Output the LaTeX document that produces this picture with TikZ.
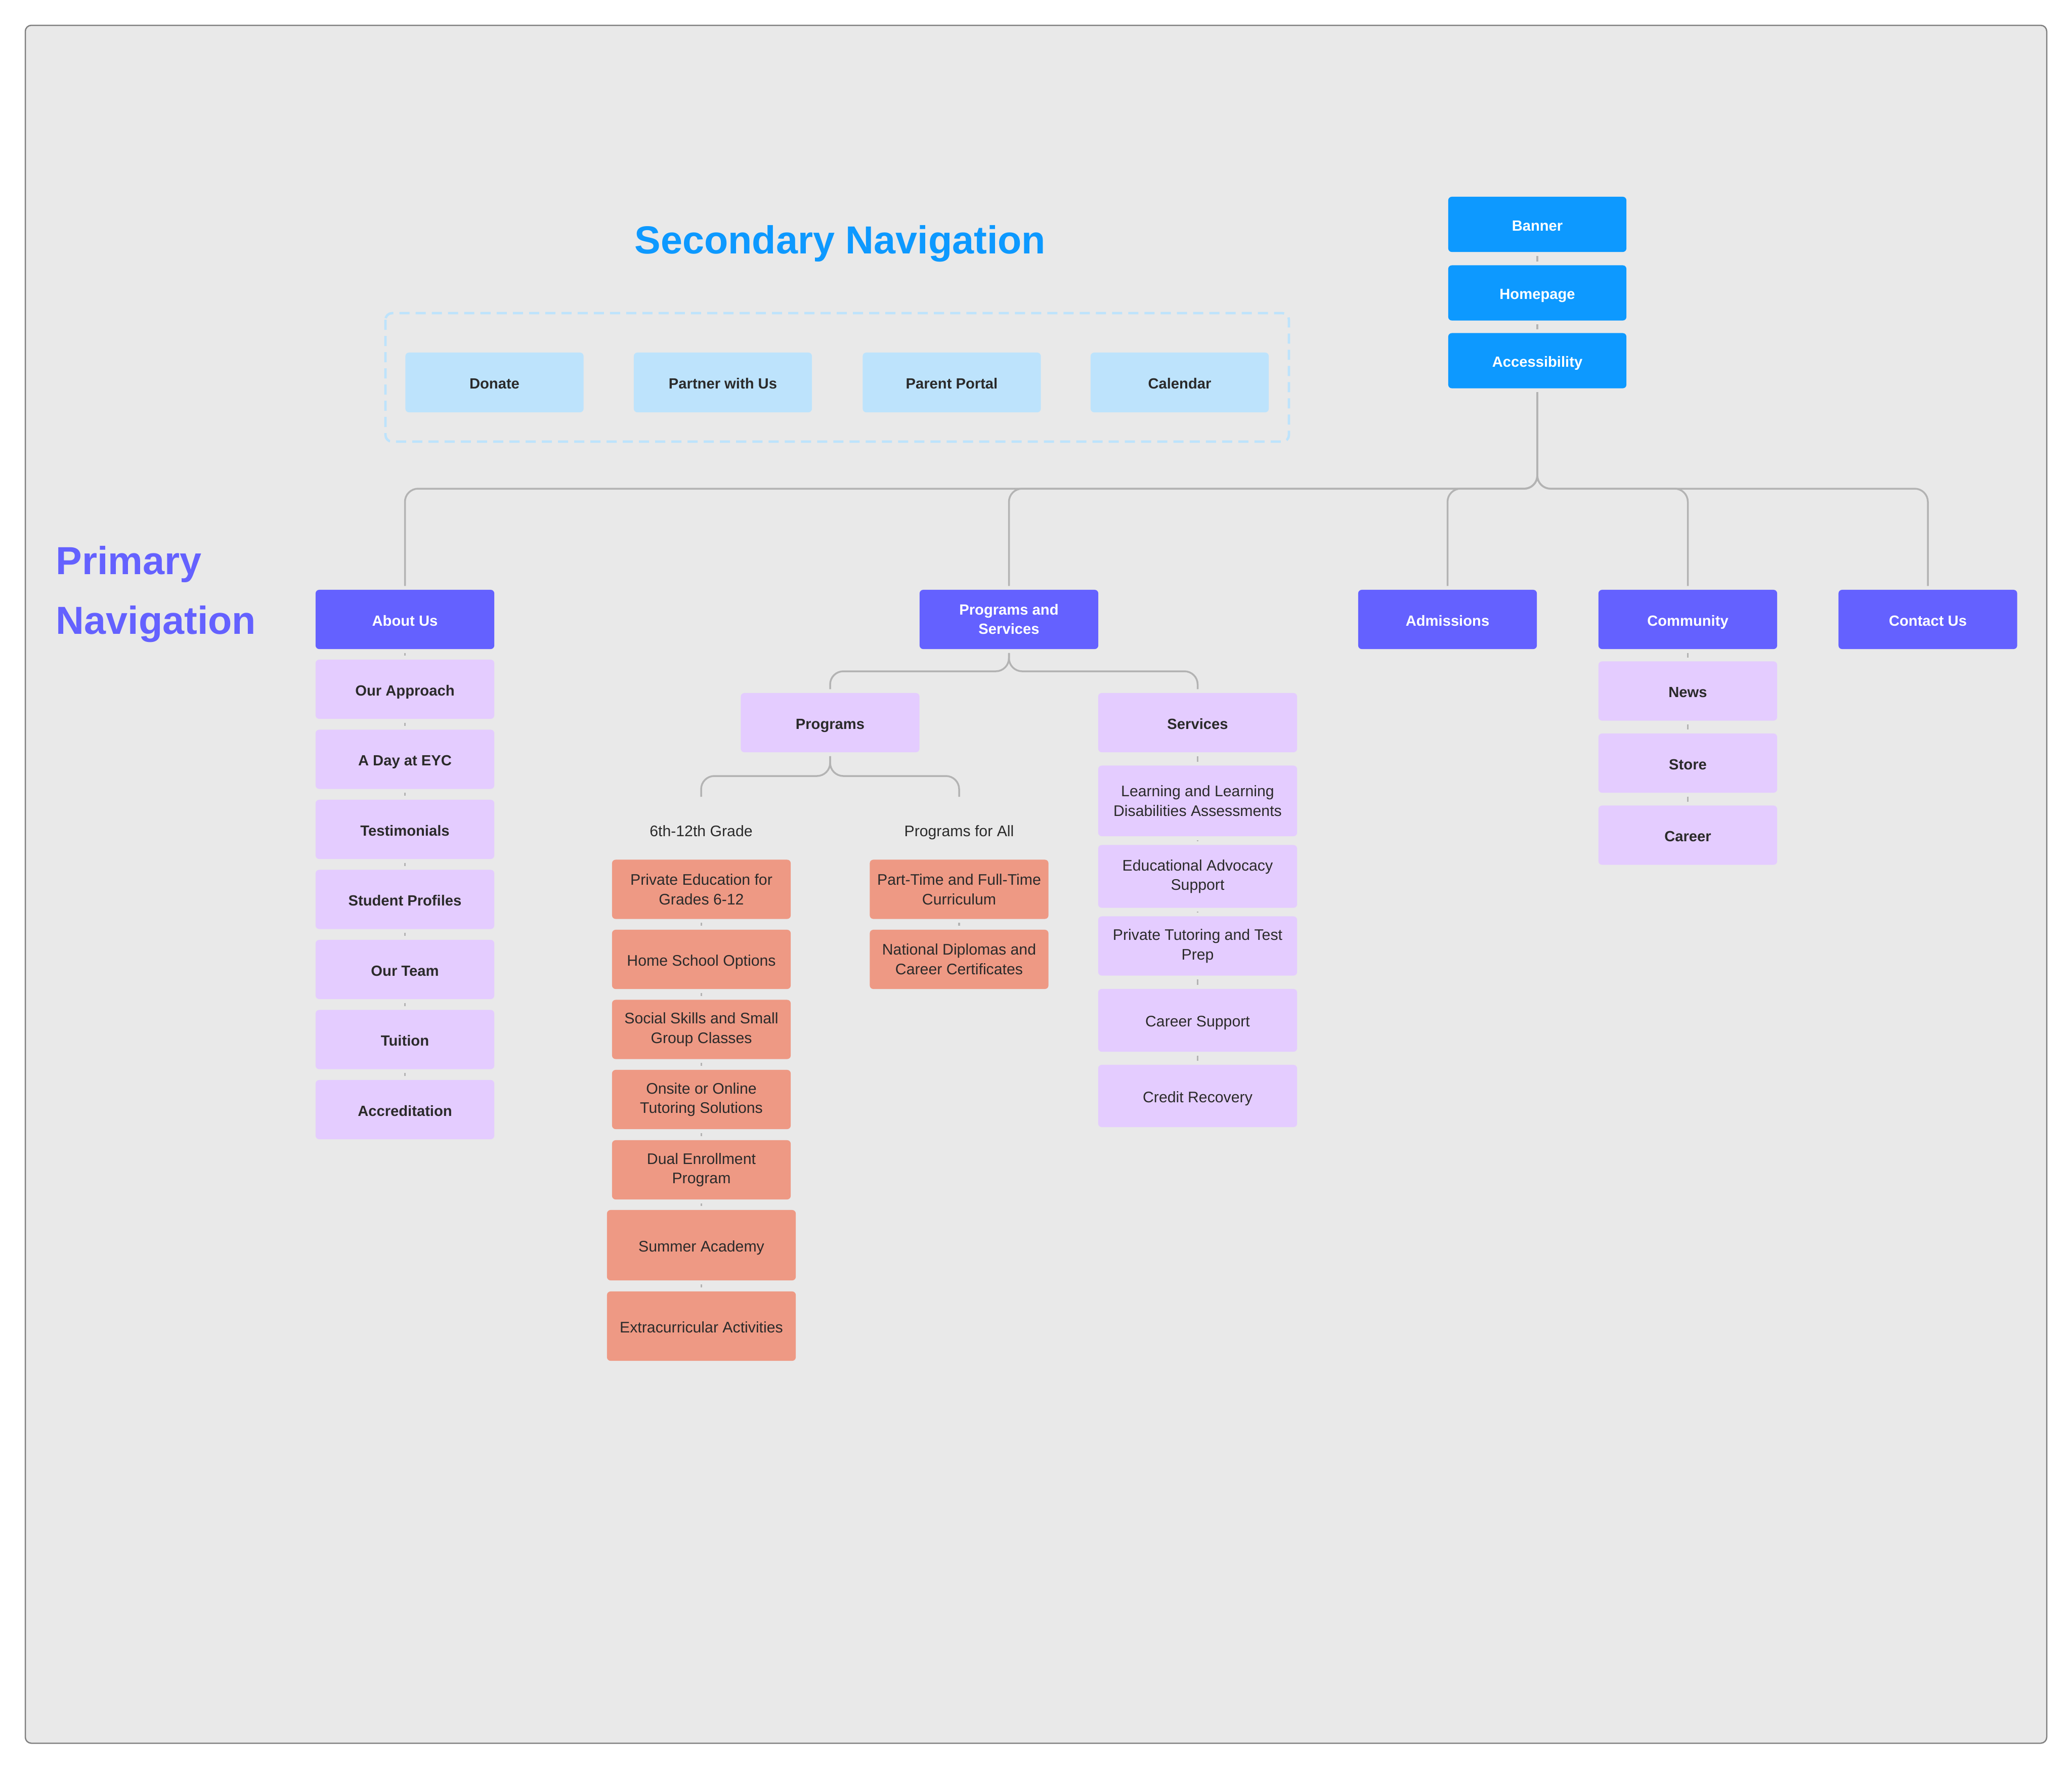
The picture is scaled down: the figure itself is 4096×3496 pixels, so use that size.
\documentclass[tikz,border=0pt]{standalone}
\usepackage{fontspec}
\setmainfont{Liberation Sans}
\definecolor{bg}{HTML}{E9E9E9}
\definecolor{framec}{HTML}{808080}
\definecolor{topblue}{HTML}{0D99FF}
\definecolor{prim}{HTML}{6461FF}
\definecolor{lav}{HTML}{E4CCFF}
\definecolor{salmon}{HTML}{EE9984}
\definecolor{secblue}{HTML}{BDE3FC}
\definecolor{conn}{HTML}{B3B3B3}
\definecolor{ink}{HTML}{2A2A2A}
\tikzset{
  bx/.style={rectangle, rounded corners=0.07cm, inner sep=0pt, align=center,
    minimum width=3.53cm, minimum height=1.17cm, text=ink,
    font=\fontsize{8.6}{11}\selectfont},
  bbx/.style={bx, font=\bfseries\fontsize{8.3}{10.8}\selectfont},
  topbox/.style={bbx, fill=topblue, text=white, minimum width=3.52cm, minimum height=1.09cm},
  primbox/.style={bbx, fill=prim, text=white},
  lavb/.style={bbx, fill=lav},
  lavr/.style={bx, fill=lav, minimum width=3.93cm},
  salm/.style={bx, fill=salmon},
  secbox/.style={bbx, fill=secblue, minimum width=3.52cm, minimum height=1.18cm},
  link/.style={draw=conn, line width=0.035cm, shorten <=0.07cm, shorten >=0.07cm},
  tree/.style={link, rounded corners=0.26cm},
  heading/.style={inner sep=0pt, font=\bfseries\fontsize{22}{26}\selectfont},
  plain/.style={inner sep=0pt, text=ink, font=\fontsize{8.6}{11}\selectfont},
  sl/.style={text height=0.72em, text depth=0pt},
}
\begin{document}
\begin{tikzpicture}[x=0.01cm,y=-0.01cm]
\path[use as bounding box] (0,0) rectangle (4096,3496);
\fill[white] (0,0) rectangle (4096,3496);
\draw[draw=framec, line width=0.025cm, fill=bg, rounded corners=0.12cm] (50,50) rectangle (4046,3446);

% headings
\node[heading, anchor=base, text=topblue] (sectitle) at (1661,501) {Secondary Navigation};
\node[heading, anchor=base west, text=prim] (pt1) at (110,1135) {Primary};
\node[heading, anchor=base west, text=prim] (pt2) at (110,1253) {Navigation};

% secondary navigation
\draw[draw=secblue, line width=0.047cm, dash pattern=on 0.2cm off 0.12cm, rounded corners=0.13cm] (762,619) rectangle (2548,873);
\node[secbox, sl] (donate) at (977.5,756) {Donate};
\node[secbox, sl] (partner) at (1429,756) {Partner with Us};
\node[secbox, sl] (portal) at (1881.5,756) {Parent Portal};
\node[secbox, sl] (cal) at (2332,756) {Calendar};

% top stack
\node[topbox, sl] (banner) at (3039,443.5) {Banner};
\node[topbox, sl] (home) at (3039,579) {Homepage};
\node[topbox, sl] (acc) at (3039,713) {Accessibility};
\draw[link] (banner.south) -- (home.north);
\draw[link] (home.south) -- (acc.north);

% primary navigation
\node[primbox, sl] (about) at (800.5,1224.5) {About Us};
\node[primbox] (ps) at (1994.5,1224.5) {Programs and\\Services};
\node[primbox, sl] (adm) at (2861.5,1224.5) {Admissions};
\node[primbox, sl] (comm) at (3336.5,1224.5) {Community};
\node[primbox, sl] (contact) at (3811,1224.5) {Contact Us};

\coordinate (bus1) at (0,966);
\foreach \c in {about,ps,adm,comm,contact}{
  \draw[tree] (acc.south) -- (acc.south |- bus1) -- (\c.north |- bus1) -- (\c.north);
}

% About Us column
\node[lavb, sl] (appr) at (800.5,1362.5) {Our Approach};
\node[lavb, sl] (day) at (800.5,1501) {A Day at EYC};
\node[lavb, sl] (test) at (800.5,1639.5) {Testimonials};
\node[lavb, sl] (prof) at (800.5,1778) {Student Profiles};
\node[lavb, sl] (team) at (800.5,1916.5) {Our Team};
\node[lavb, sl] (tuit) at (800.5,2055) {Tuition};
\node[lavb, sl] (accr) at (800.5,2193.5) {Accreditation};
\draw[link] (about.south) -- (appr.north);
\draw[link] (appr.south) -- (day.north);
\draw[link] (day.south) -- (test.north);
\draw[link] (test.south) -- (prof.north);
\draw[link] (prof.south) -- (team.north);
\draw[link] (team.south) -- (tuit.north);
\draw[link] (tuit.south) -- (accr.north);

% Community column
\node[lavb, sl] (news) at (3336.5,1366) {News};
\node[lavb, sl] (store) at (3336.5,1508.5) {Store};
\node[lavb, sl] (career) at (3336.5,1651) {Career};
\draw[link] (comm.south) -- (news.north);
\draw[link] (news.south) -- (store.north);
\draw[link] (store.south) -- (career.north);

% Programs and Services
\node[lavb, sl] (progs) at (1641,1428.5) {Programs};
\node[lavb, sl, minimum width=3.93cm] (serv) at (2367.5,1428.5) {Services};
\coordinate (bus2) at (0,1327);
\draw[tree] (ps.south) -- (ps.south |- bus2) -- (progs.north |- bus2) -- (progs.north);
\draw[tree] (ps.south) -- (ps.south |- bus2) -- (serv.north |- bus2) -- (serv.north);

% Services column
\node[lavr, minimum height=1.395cm] (learn) at (2367.5,1583.25) {Learning and Learning\\Disabilities Assessments};
\node[lavr, minimum height=1.24cm] (advo) at (2367.5,1732.5) {Educational Advocacy\\Support};
\node[lavr] (tutor) at (2367.5,1870) {Private Tutoring and Test\\Prep};
\node[lavr, sl, minimum height=1.24cm] (csup) at (2367.5,2017) {Career Support};
\node[lavr, sl, minimum height=1.23cm] (credit) at (2367.5,2166.5) {Credit Recovery};
\draw[link] (serv.south) -- (learn.north);
\draw[link] (learn.south) -- (advo.north);
\draw[link] (advo.south) -- (tutor.north);
\draw[link] (tutor.south) -- (csup.north);
\draw[link] (csup.south) -- (credit.north);

% Programs branches
\node[plain, sl] (g6) at (1386,1641) {6th-12th Grade};
\node[plain, sl] (pall) at (1896,1641) {Programs for All};
\coordinate (g6end) at (1386,1575);
\coordinate (pallend) at (1896,1575);
\coordinate (bus3) at (0,1534);
\draw[tree, shorten >=0pt] (progs.south) -- (progs.south |- bus3) -- (g6end |- bus3) -- (g6end);
\draw[tree, shorten >=0pt] (progs.south) -- (progs.south |- bus3) -- (pallend |- bus3) -- (pallend);

% 6th-12th column
\node[salm] (pe) at (1386.5,1758) {Private Education for\\Grades 6-12};
\node[salm, sl] (hs) at (1386.5,1896.5) {Home School Options};
\node[salm] (ss) at (1386.5,2035) {Social Skills and Small\\Group Classes};
\node[salm] (ot) at (1386.5,2173.5) {Onsite or Online\\Tutoring Solutions};
\node[salm] (de) at (1386.5,2312.5) {Dual Enrollment\\Program};
\node[salm, sl, minimum width=3.73cm, minimum height=1.39cm] (sa) at (1386.5,2461.5) {Summer Academy};
\node[salm, sl, minimum width=3.73cm, minimum height=1.37cm] (ex) at (1386.5,2621.5) {Extracurricular Activities};
\draw[link] (pe.south) -- (hs.north);
\draw[link] (hs.south) -- (ss.north);
\draw[link] (ss.south) -- (ot.north);
\draw[link] (ot.south) -- (de.north);
\draw[link] (de.south) -- (sa.north);
\draw[link] (sa.south) -- (ex.north);

% Programs for All column
\node[salm] (ptft) at (1896,1758) {Part-Time and Full-Time\\Curriculum};
\node[salm] (nd) at (1896,1896.5) {National Diplomas and\\Career Certificates};
\draw[link] (ptft.south) -- (nd.north);
\end{tikzpicture}
\end{document}
